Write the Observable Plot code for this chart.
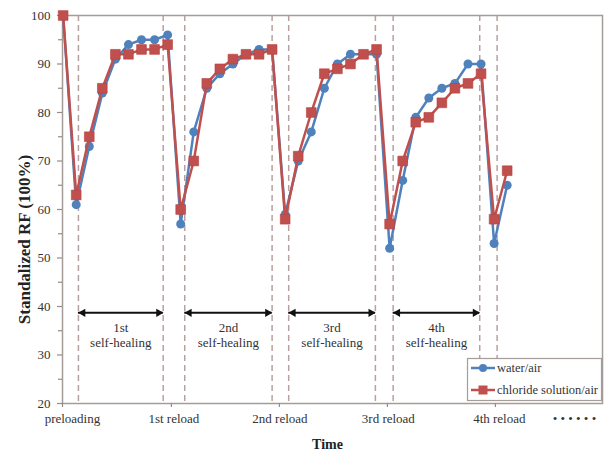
<!DOCTYPE html>
<html><head><meta charset="utf-8">
<script src="https://cdn.jsdelivr.net/npm/d3@7"></script>
<script src="https://cdn.jsdelivr.net/npm/@observablehq/plot@0.6"></script>
<style>
body{margin:0;background:#fff;}
#chart{position:relative;width:605px;height:455px;}
</style></head><body><div id="chart"></div>
<script>
// measurement step (x position of each reading)
const step = [0,1,2,3,4,5,6,7,8,9,10,11,12,13,14,15,16,17,18,19,20,21,22,23,24,25,26,27,28,29,30,31,32,33,34];
const water = [100,61,73,84,91,94,95,95,96,57,76,85,88,90,92,93,93,59,70,76,85,90,92,92,92,52,66,79,83,85,86,90,90,53,65];
const chloride = [100,63,75,85,92,92,93,93,94,60,70,86,89,91,92,92,93,58,71,80,88,89,90,92,93,57,70,78,79,82,85,86,88,58,68];
const seriesNames = ["water/air","chloride solution/air"];

// reload events and dashed boundary lines (in step units)
const reloadTicks = [-0.05, 8.29, 16.56, 24.83, 33.1];
const xLabels = ["preloading","1st reload","2nd reload","3rd reload","4th reload","• • • • • •"];
const xLabelAt = [0.71, 8.48, 16.6, 24.9, 33.4, 39.15];
const dashX = [1.17, 7.66, 9.31, 16.0, 17.27, 23.91, 25.27, 31.9, 33.23];

// self-healing periods
const healStart = [1.17, 9.31, 17.27, 25.27];
const healEnd = [7.66, 16.0, 23.91, 31.9];
const healNames = ["1st","2nd","3rd","4th"];
const arrowLevel = 38.7;

const yTicks = [20,30,40,50,60,70,80,90,100];
const yMinor = [25,35,45,55,65,75,85,95];

const rows = step.map((s,i)=>({step:s, water:water[i], chloride:chloride[i]}));
const heal = healNames.map((n,i)=>({x1:healStart[i], x2:healEnd[i], mid:(healStart[i]+healEnd[i])/2, text:n+"\nself-healing", y:arrowLevel}));
const labels = xLabels.map((t,i)=>({t, x:xLabelAt[i]}));

const BLUE="#4F81BD", RED="#C0504D", AXIS="#978a88", DASH="#b9a0a0", TXT="#333";

const plot = Plot.plot({
  width:605, height:455,
  marginLeft:62, marginRight:3, marginTop:15, marginBottom:52,
  style:{fontFamily:"'Liberation Serif', 'Times New Roman', serif", fontSize:"13px", color:TXT, background:"#fff"},
  x:{domain:[-0.05,41.3], axis:null},
  y:{domain:[20,100], axis:null},
  marks:[
    Plot.ruleX(dashX, {stroke:DASH, strokeWidth:1.5, strokeDasharray:"6,4"}),
    Plot.frame({stroke:"#a59b99", strokeWidth:1.5}),
    Plot.axisY(yTicks, {tickSize:5, tickPadding:7, stroke:AXIS, strokeWidth:1.2, label:null, fill:TXT, fontSize:13}),
    Plot.axisY(yMinor, {tickSize:4, text:null, label:null, stroke:AXIS, strokeWidth:1.2}),
    Plot.axisX(reloadTicks, {tickSize:4, text:null, label:null, stroke:AXIS, strokeWidth:1.2}),
    Plot.text(labels, {x:"x", text:"t", frameAnchor:"bottom", dy:19, fill:TXT, fontSize:13}),
    // self-healing arrows
    Plot.ruleY(heal, {y:"y", x1:"x1", x2:"x2", stroke:"#111", strokeWidth:2}),
    Plot.dot(heal, {x:"x1", y:"y", symbol:"triangle", r:3.1, rotate:-90, fill:"#111", dx:4.5}),
    Plot.dot(heal, {x:"x2", y:"y", symbol:"triangle", r:3.1, rotate:90, fill:"#111", dx:-4.5}),
    Plot.text(heal, {x:"mid", y:"y", text:"text", lineAnchor:"top", dy:8, lineHeight:1.2, fill:TXT, fontSize:13}),
    // series
    Plot.line(rows, {x:"step", y:"water", stroke:BLUE, strokeWidth:2.5}),
    Plot.dot(rows, {x:"step", y:"water", symbol:"circle", r:4.5, fill:BLUE}),
    Plot.line(rows, {x:"step", y:"chloride", stroke:RED, strokeWidth:2.5}),
    Plot.dot(rows, {x:"step", y:"chloride", symbol:"square", r:5.5, fill:RED, stroke:"#b8403d", strokeWidth:0.6}),
    // axis titles
    Plot.text(["Standalized RF (100%)"], {frameAnchor:"left", textAnchor:"middle", dx:-38, dy:30, rotate:-90, fontWeight:"bold", fontSize:17, fill:"#222"}),
    Plot.text(["Time"], {frameAnchor:"bottom", dx:-5, dy:45, fontWeight:"bold", fontSize:14, fill:"#222"})
  ]
});
document.getElementById("chart").appendChild(plot);

// legend inside the frame (bottom right)
const svg = d3.select(plot);
const lg = svg.append("g").attr("font-family","'Liberation Serif', 'Times New Roman', serif").attr("font-size","12.5px").attr("text-anchor","start");
lg.append("rect").attr("x",467.5).attr("y",358.5).attr("width",134).attr("height",42).attr("fill","#fff").attr("stroke","#a59b99").attr("stroke-width",1.2);
const colors=[BLUE,RED];
seriesNames.forEach((n,i)=>{
  const y = 368 + i*22;
  lg.append("line").attr("x1",471).attr("x2",495).attr("y1",y).attr("y2",y).attr("stroke",colors[i]).attr("stroke-width",2.5);
  if(i===0) lg.append("circle").attr("cx",483).attr("cy",y).attr("r",4).attr("fill",BLUE);
  else lg.append("rect").attr("x",478.5).attr("y",y-4.5).attr("width",9).attr("height",9).attr("fill",RED);
  lg.append("text").attr("x",497).attr("y",y).attr("dy","0.35em").attr("text-anchor","start").attr("fill",TXT).text(n);
});
</script></body></html>
